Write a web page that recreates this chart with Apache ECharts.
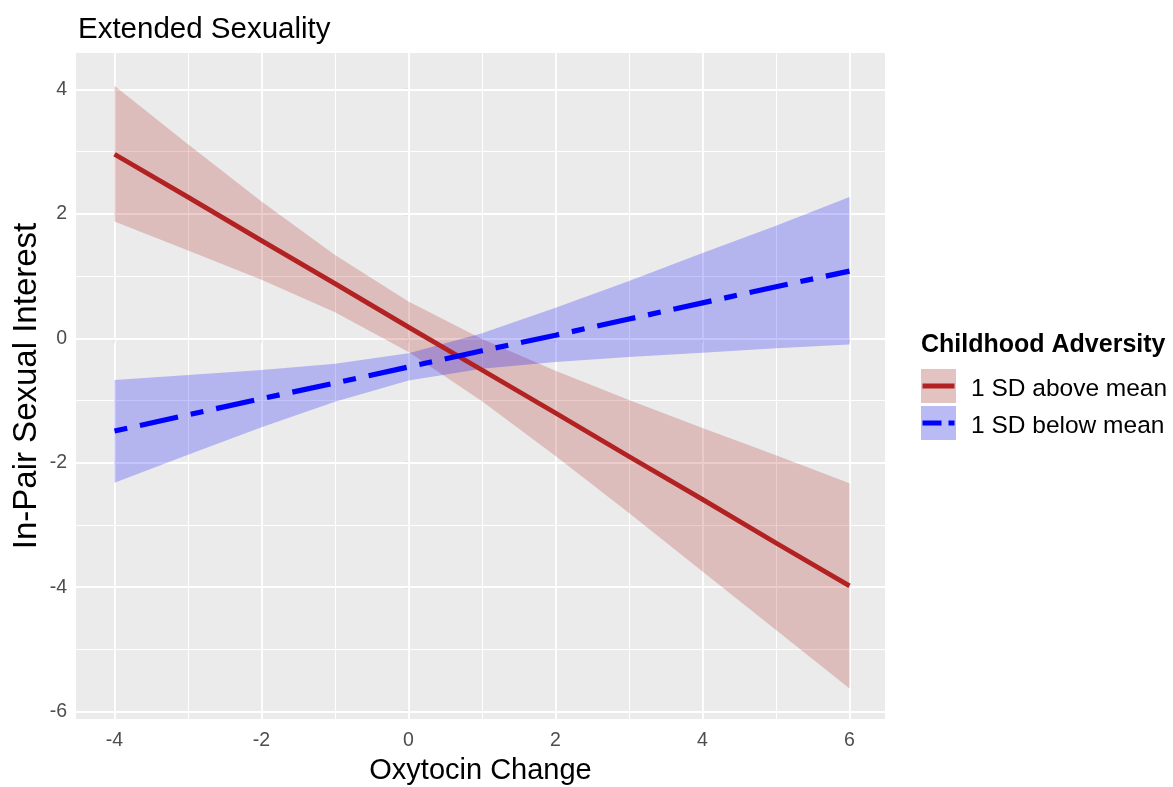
<!DOCTYPE html>
<html>
<head>
<meta charset="utf-8">
<script src="https://cdn.jsdelivr.net/npm/echarts@6/dist/echarts.min.js"></script>
<style>
  html, body { margin: 0; padding: 0; background: #ffffff; }
  #chart { width: 1173px; height: 787px; }
</style>
</head>
<body>
<div id="chart"></div>
<script>
// Oxytocin change grid the predictions are evaluated on
const oxytocin = [-4, -3, -2, -1, 0, 1, 2, 3, 4, 5, 6];

// Childhood adversity 1 SD above mean: fitted line and confidence band
const aboveFit  = [2.96, 2.27, 1.57, 0.88, 0.18, -0.51, -1.20, -1.90, -2.59, -3.29, -3.98];
const aboveLow  = [1.88, 1.41, 0.94, 0.42, -0.22, -1.01, -1.89, -2.81, -3.75, -4.69, -5.63];
const aboveHigh = [4.06, 3.12, 2.20, 1.34, 0.59, -0.01, -0.52, -0.99, -1.44, -1.88, -2.33];

// Childhood adversity 1 SD below mean: fitted line and confidence band
const belowFit  = [-1.49, -1.23, -0.97, -0.72, -0.46, -0.20, 0.05, 0.31, 0.57, 0.83, 1.08];
const belowLow  = [-2.32, -1.87, -1.43, -1.02, -0.68, -0.49, -0.38, -0.30, -0.23, -0.16, -0.10];
const belowHigh = [-0.67, -0.59, -0.51, -0.41, -0.24, 0.08, 0.49, 0.92, 1.37, 1.81, 2.27];

// Axis ticks
const xTicks = [-4, -2, 0, 2, 4, 6];
const xMinorTicks = [-3, -1, 1, 3, 5];
const yTicks = [-6, -4, -2, 0, 2, 4];
const yMinorTicks = [-5, -3, -1, 1, 3];

const seriesNames = ['1 SD above mean', '1 SD below mean'];

const FONT = '"Liberation Sans", Arial, sans-serif';
const RED = '#B22222';
const BLUE = '#0000FF';
const RED_FILL = 'rgba(178,34,34,0.23)';
const BLUE_FILL = 'rgba(0,0,255,0.23)';

const chart = echarts.init(document.getElementById('chart'), null, { renderer: 'canvas' });

function bandRenderer(lo, hi, fill) {
  return function (params, api) {
    if (params.dataIndex !== 0) return null;
    const pts = [];
    for (let i = 0; i < oxytocin.length; i++) pts.push(api.coord([oxytocin[i], hi[i]]));
    for (let i = oxytocin.length - 1; i >= 0; i--) pts.push(api.coord([oxytocin[i], lo[i]]));
    return { type: 'polygon', shape: { points: pts }, style: { fill: fill } };
  };
}

function bandData(lo, hi) {
  return oxytocin.map((x, i) => [x, lo[i], hi[i]]);
}

function lineData(fit) {
  return oxytocin.map((x, i) => [x, fit[i]]);
}

// White panel grid lines (major and minor)
const gridLines = []
  .concat(xTicks.map(v => ({ xAxis: v, lineStyle: { width: 1.8 } })))
  .concat(xMinorTicks.map(v => ({ xAxis: v, lineStyle: { width: 1.0 } })))
  .concat(yTicks.map(v => ({ yAxis: v, lineStyle: { width: 1.8 } })))
  .concat(yMinorTicks.map(v => ({ yAxis: v, lineStyle: { width: 1.0 } })));

const axisCommon = {
  type: 'value',
  axisLine: { show: false },
  splitLine: { show: false },
  nameMoveOverlap: false,
  axisTick: { show: true, length: 4.5, lineStyle: { color: '#333333', width: 1.1 } },
  nameTextStyle: { color: '#000000', fontFamily: FONT }
};

const option = {
  animation: false,
  backgroundColor: '#ffffff',
  textStyle: { fontFamily: FONT },
  title: {
    text: 'Extended Sexuality',
    left: 78,
    top: 15,
    padding: 0,
    textStyle: { fontSize: 29.5, fontWeight: 'normal', color: '#000000', fontFamily: FONT }
  },
  grid: {
    left: 76, right: 288, top: 53, bottom: 68,
    outerBoundsMode: 'none',
    containLabel: false,
    show: true, backgroundColor: '#EBEBEB', borderWidth: 0
  },
  xAxis: Object.assign({}, axisCommon, {
    min: -4.524, max: 6.483,
    name: 'Oxytocin Change',
    nameLocation: 'middle',
    nameGap: 37,
    nameTextStyle: { color: '#000000', fontFamily: FONT, fontSize: 29 },
    axisTick: Object.assign({}, axisCommon.axisTick, { customValues: xTicks }),
    axisLabel: { customValues: xTicks, color: '#4D4D4D', fontSize: 19.5, margin: 12, fontFamily: FONT }
  }),
  yAxis: Object.assign({}, axisCommon, {
    min: -6.12, max: 4.587,
    name: 'In-Pair Sexual Interest',
    nameLocation: 'middle',
    nameGap: 33,
    nameTextStyle: { color: '#000000', fontFamily: FONT, fontSize: 33 },
    axisTick: Object.assign({}, axisCommon.axisTick, { customValues: yTicks }),
    axisLabel: { customValues: yTicks, color: '#4D4D4D', fontSize: 19.5, margin: 9, fontFamily: FONT }
  }),
  series: [
    {
      name: seriesNames[0] + ' band',
      type: 'custom',
      z: 2,
      silent: true,
      renderItem: bandRenderer(aboveLow, aboveHigh, RED_FILL),
      encode: { x: 0, y: [1, 2] },
      data: bandData(aboveLow, aboveHigh),
      markLine: {
        silent: true,
        z: 1,
        symbol: 'none',
        label: { show: false },
        lineStyle: { color: '#FFFFFF', type: 'solid' },
        emphasis: { disabled: true },
        data: gridLines
      }
    },
    {
      name: seriesNames[1] + ' band',
      type: 'custom',
      z: 2,
      silent: true,
      renderItem: bandRenderer(belowLow, belowHigh, BLUE_FILL),
      encode: { x: 0, y: [1, 2] },
      data: bandData(belowLow, belowHigh)
    },
    {
      name: seriesNames[0],
      type: 'line',
      z: 3,
      symbol: 'none',
      silent: true,
      data: lineData(aboveFit),
      lineStyle: { color: RED, width: 4.8, cap: 'butt' }
    },
    {
      name: seriesNames[1],
      type: 'line',
      z: 4,
      symbol: 'none',
      silent: true,
      data: lineData(belowFit),
      lineStyle: { color: BLUE, width: 5.2, type: [13, 13, 39, 13], cap: 'butt' }
    }
  ],
  graphic: [
    { type: 'text', x: 921, y: 345.5, style: { text: 'Childhood Adversity', fontSize: 25, fontWeight: 'bold', fontFamily: FONT, fill: '#000000', align: 'left', verticalAlign: 'middle' } },
    { type: 'rect', shape: { x: 921, y: 369, width: 35, height: 34 }, style: { fill: '#F2F2F2' } },
    { type: 'rect', shape: { x: 921, y: 369, width: 35, height: 34 }, style: { fill: RED_FILL } },
    { type: 'line', shape: { x1: 922.5, y1: 386, x2: 954.5, y2: 386 }, style: { stroke: RED, lineWidth: 4.8 } },
    { type: 'rect', shape: { x: 921, y: 406, width: 35, height: 34 }, style: { fill: '#F2F2F2' } },
    { type: 'rect', shape: { x: 921, y: 406, width: 35, height: 34 }, style: { fill: BLUE_FILL } },
    { type: 'line', shape: { x1: 922.5, y1: 423, x2: 954.5, y2: 423 }, style: { stroke: BLUE, lineWidth: 5.2, lineDash: [19, 7] } },
    { type: 'text', x: 971, y: 389, style: { text: seriesNames[0], fontSize: 24.5, fontFamily: FONT, fill: '#000000', align: 'left', verticalAlign: 'middle' } },
    { type: 'text', x: 971, y: 426, style: { text: seriesNames[1], fontSize: 24.5, fontFamily: FONT, fill: '#000000', align: 'left', verticalAlign: 'middle' } }
  ]
};

chart.setOption(option);
</script>
</body>
</html>
